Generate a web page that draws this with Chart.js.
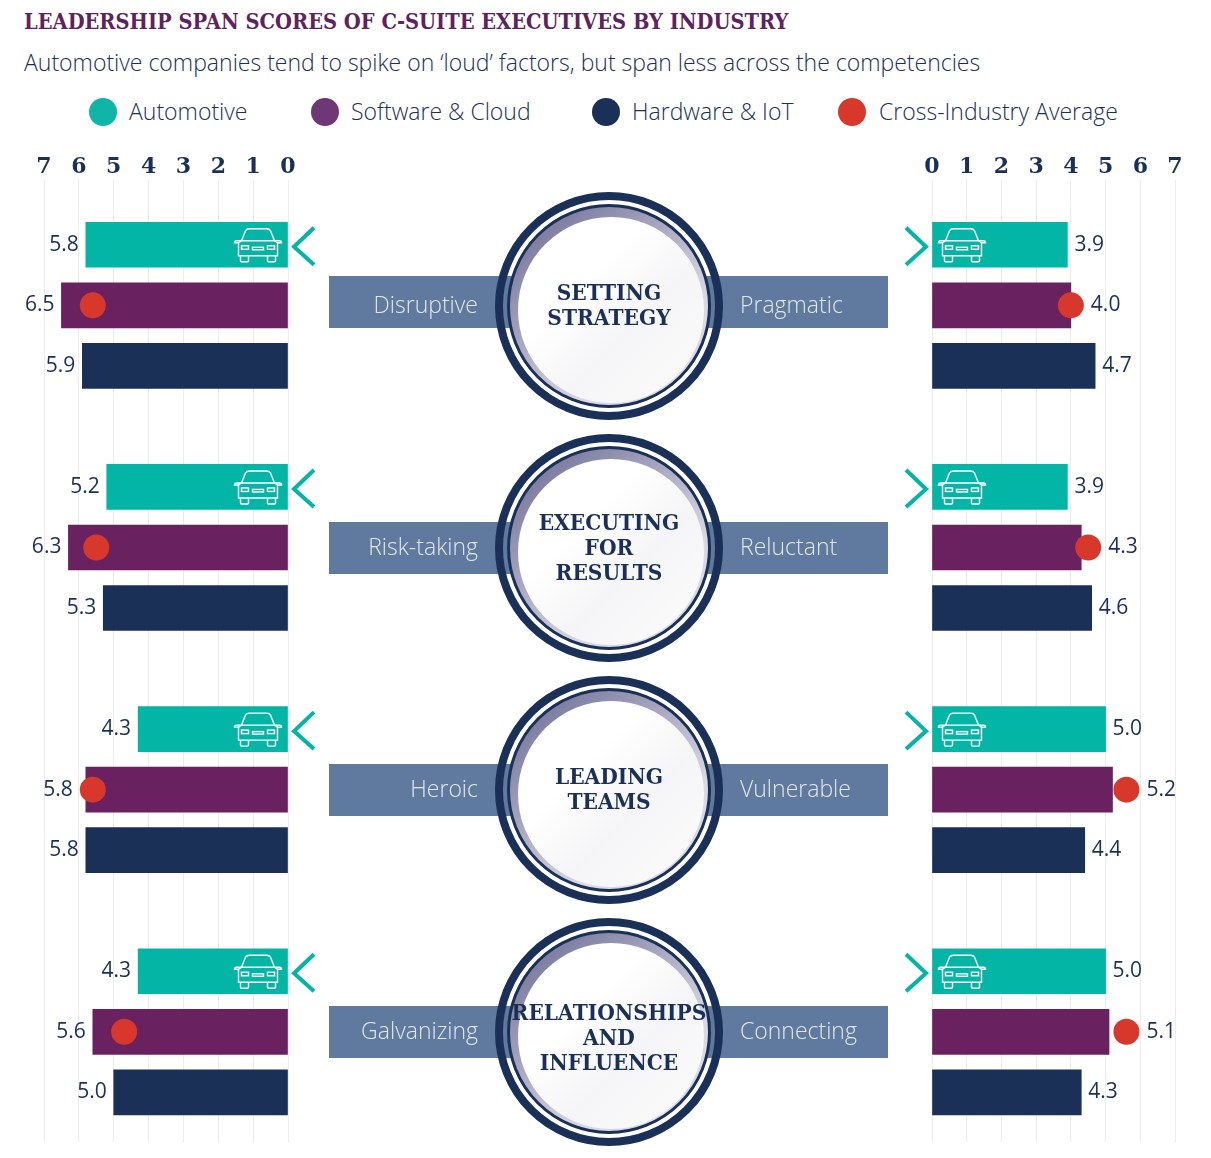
<!DOCTYPE html>
<html>
<head>
<meta charset="utf-8">
<title>Leadership span scores</title>
<script src="https://cdn.jsdelivr.net/npm/chart.js@4"></script>
<style>
  html, body { margin: 0; padding: 0; background: #fff; }
  #page { position: relative; width: 1211px; height: 1158px; overflow: hidden; font-family: "Open Sans", sans-serif; color: #1a3057; }
  #page > * { position: absolute; }
  #title { left: 24px; top: 8px; font: bold 22px "DejaVu Serif", serif; color: #5d2360; white-space: nowrap; transform-origin: left top; transform: scaleX(0.885); }
  #subtitle { left: 24px; top: 46px; font-size: 23px; font-weight: 300; white-space: nowrap; }
  .dot { width: 28px; height: 28px; border-radius: 50%; top: 98px; }
  .legend-text { top: 95px; font-size: 23px; font-weight: 300; white-space: nowrap; }
  .band { left: 329px; width: 559px; height: 52px; background: #5f7a9e; }
  .band-label { width: 150px; height: 52px; line-height: 52px; font-size: 23px; font-weight: 300; color: #e3e8ef; white-space: nowrap; }
  .ring { width: 228px; height: 228px; box-sizing: border-box; border-radius: 50%; border: 8px solid #1a3057; }
  .inner { width: 204px; height: 204px; box-sizing: border-box; border-radius: 50%; border: 3px solid #1a3057; background: linear-gradient(140deg, #7f7fa3 15%, #d9d9e4 70%); }
  .disc { width: 186px; height: 186px; border-radius: 50%; background: linear-gradient(135deg, #ffffff 35%, #f5f5f7 60%, #fcfcfc 100%); }
  .ring-text { width: 228px; text-align: center; font: bold 23px/25px "DejaVu Serif", serif; color: #1a3057; white-space: nowrap; transform: scaleX(0.88); }
</style>
</head>
<body>
<div id="page">
  <div id="title">LEADERSHIP SPAN SCORES OF C-SUITE EXECUTIVES BY INDUSTRY</div>
  <div id="subtitle">Automotive companies tend to spike on ‘loud’ factors, but span less across the competencies</div>
  <canvas id="leftChart" width="340" height="1015" style="left:0;top:140px"></canvas>
  <canvas id="rightChart" width="321" height="1015" style="left:890px;top:140px"></canvas>
</div>
<script>
// Data
const seriesNames = ["Automotive", "Software & Cloud", "Hardware & IoT", "Cross-Industry Average"];
const competencies = [["SETTING", "STRATEGY"], ["EXECUTING", "FOR", "RESULTS"], ["LEADING", "TEAMS"], ["RELATIONSHIPS", "AND", "INFLUENCE"]];
const leftLabels = ["Disruptive", "Risk-taking", "Heroic", "Galvanizing"];
const rightLabels = ["Pragmatic", "Reluctant", "Vulnerable", "Connecting"];
const tickValues = [0, 1, 2, 3, 4, 5, 6, 7];

const autoLeft = [5.8, 5.2, 4.3, 4.3];
const softLeft = [6.5, 6.3, 5.8, 5.6];
const hardLeft = [5.9, 5.3, 5.8, 5.0];
const avgLeft = [5.6, 5.5, 5.6, 4.7];

const autoRight = [3.9, 3.9, 5.0, 5.0];
const softRight = [4.0, 4.3, 5.2, 5.1];
const hardRight = [4.7, 4.6, 4.4, 4.3];
const avgRight = [4.0, 4.5, 5.6, 5.6];

const colors = ["#03b5a5", "#6a2160", "#1a3057", "#d8382b"];
const legendColors = ["#0fb5a6", "#6f3776", "#1a3057", "#d8382b"];
const bodyFont = "Open Sans";
const tickFont = "DejaVu Serif";

// each group takes 4 rows: three bars and a gap
const rowOf = (group, series) => group * 4 + series;

const page = document.getElementById("page");
function addEl(cls, style, text) {
  const el = document.createElement("div");
  el.className = cls;
  Object.assign(el.style, style);
  if (text) el.textContent = text;
  page.appendChild(el);
  return el;
}

// legend
const legendDotX = [89, 311, 592, 838];
const legendTextX = [129, 351, 632, 879];
seriesNames.forEach((name, i) => {
  addEl("dot", { left: legendDotX[i] + "px", background: legendColors[i] });
  addEl("legend-text", { left: legendTextX[i] + "px" }, name);
});

// centre bands and rings
const ringY = [306, 548, 790, 1032];
const bandY = [302, 548, 790, 1032];
const labelY = [306, 548, 790, 1032];
const ringTextY = [304, 546, 788, 1036];
competencies.forEach((lines, i) => {
  const y = ringY[i];
  addEl("band", { top: bandY[i] - 26 + "px" });
  addEl("band-label", { left: "328px", top: labelY[i] - 28 + "px", textAlign: "right" }, leftLabels[i]);
  addEl("band-label", { left: "740px", top: labelY[i] - 28 + "px" }, rightLabels[i]);
  addEl("ring", { left: "495px", top: y - 114 + "px" });
  addEl("inner", { left: "507px", top: y - 102 + "px" });
  addEl("disc", { left: "518px", top: y - 89 + "px" });
  const t = addEl("ring-text", { left: "495px", top: ringTextY[i] - lines.length * 12.5 + "px" });
  t.innerHTML = lines.join("<br>");
});

// value labels, car icons and chevrons are drawn on top of the bars
const extras = {
  id: "extras",
  afterDatasetsDraw(chart, args, opts) {
    const { ctx, scales: { x, y } } = chart;
    const dir = opts.side;
    ctx.save();
    ctx.fillStyle = "#1a3057";
    ctx.font = "21px '" + bodyFont + "'";
    ctx.textBaseline = "middle";
    ctx.textAlign = dir > 0 ? "left" : "right";
    opts.rows.forEach((vals, group) => {
      vals.forEach((v, s) => {
        let edge = x.getPixelForValue(v);
        if (s === 1) {
          const dotEdge = x.getPixelForValue(opts.avg[group]) + dir * 13;
          edge = dir > 0 ? Math.max(edge, dotEdge) : Math.min(edge, dotEdge);
        }
        ctx.fillText(v.toFixed(1), edge + dir * 7, y.getPixelForValue(rowOf(group, s)));
      });
      // chevron and car sit on the automotive row
      const cy = y.getPixelForValue(rowOf(group, 0));
      const x0 = x.getPixelForValue(0);
      ctx.strokeStyle = colors[0];
      ctx.lineWidth = 4;
      ctx.beginPath();
      ctx.moveTo(x0 + dir * -26, cy - 17);
      ctx.lineTo(x0 + dir * -6, cy + 2);
      ctx.lineTo(x0 + dir * -26, cy + 20);
      ctx.stroke();
      drawCar(ctx, x0 + dir * 30, cy + 1);
    });
    ctx.restore();
  }
};

function drawCar(ctx, cx, cy) {
  ctx.save();
  ctx.translate(cx - 24.5, cy - 18);
  ctx.strokeStyle = "#fff";
  ctx.lineWidth = 1.4;
  // roof, body, mirrors, wheels, lights
  ctx.stroke(new Path2D("M8 13 L12 3 Q13 1 16 1 H33 Q36 1 37 3 L41 13"));
  ctx.stroke(new Path2D("M8 13 H3 Q1 13 1 15 H5 L5 28 H44 V15 H48 Q48 13 46 13 H41 M8 13 H41"));
  ctx.stroke(new Path2D("M5 15 L8 13 M44 15 L41 13"));
  ctx.stroke(new Path2D("M7 28 V33 Q7 34 8 34 H14 Q15 34 15 33 V28 M34 28 V33 Q34 34 35 34 H41 Q42 34 42 33 V28"));
  ctx.strokeRect(8, 18, 7, 3.5);
  ctx.strokeRect(34, 18, 7, 3.5);
  ctx.strokeRect(19, 19.5, 11, 2.5);
  ctx.restore();
}

function buildPoints(vals, series) {
  return vals.map((v, group) => ({ x: v, y: rowOf(group, series) }));
}

function makeChart(id, auto, soft, hard, avg, side, padding) {
  return new Chart(document.getElementById(id), {
    type: "bar",
    data: {
      datasets: [
        { type: "scatter", data: buildPoints(avg, 1), backgroundColor: colors[3], borderWidth: 0, pointRadius: 13, order: 0 },
        { data: buildPoints(auto, 0), backgroundColor: colors[0], order: 1 },
        { data: buildPoints(soft, 1), backgroundColor: colors[1], order: 1 },
        { data: buildPoints(hard, 2), backgroundColor: colors[2], order: 1 }
      ]
    },
    plugins: [extras],
    options: {
      indexAxis: "y",
      responsive: false,
      animation: false,
      grouped: false,
      barThickness: 45,
      layout: { padding: padding },
      plugins: {
        legend: { display: false },
        tooltip: { enabled: false },
        extras: { side: side, rows: [0, 1, 2, 3].map(g => [auto[g], soft[g], hard[g]]), avg: avg }
      },
      scales: {
        x: {
          type: "linear",
          position: "top",
          min: 0,
          max: 7,
          reverse: side < 0,
          afterFit: s => { s.height = 40; },
          afterBuildTicks: s => { s.ticks = tickValues.map(v => ({ value: v })); },
          grid: { color: "#ececec", drawTicks: false },
          border: { display: false },
          ticks: { padding: 0, maxRotation: 0, color: "#1a3057", font: { family: tickFont, weight: "bold", size: 22 } }
        },
        y: { type: "linear", reverse: true, offset: false, min: -1.07, max: 14.82, display: false }
      }
    }
  });
}

makeChart("leftChart", autoLeft, softLeft, hardLeft, avgLeft, -1, { left: 44, right: 52, bottom: 10 });
makeChart("rightChart", autoRight, softRight, hardRight, avgRight, 1, { left: 42, right: 36, bottom: 10 });
</script>
</body>
</html>
